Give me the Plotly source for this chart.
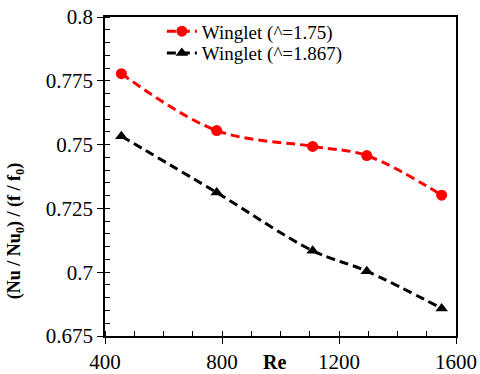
import plotly.graph_objects as go

# podaci očitani sa slike
re_vals = [456, 782, 1110, 1295, 1551]
odnos_175 = [0.7778, 0.7555, 0.7493, 0.7457, 0.7302]
odnos_1867 = [0.7533, 0.7312, 0.7084, 0.7004, 0.6858]

y_tick_vals = [0.675, 0.7, 0.725, 0.75, 0.775, 0.8]
y_tick_text = ["0.675", "0.7", "0.725", "0.75", "0.775", "0.8"]
x_tick_vals = [400, 800, 1200, 1600]

FONT = "'Liberation Serif', 'Times New Roman', Times, serif"

fig = go.Figure()
fig.add_trace(go.Scatter(
    x=re_vals, y=odnos_175, name="Winglet (^=1.75)", legend="legend",
    mode="lines+markers", line=dict(color="#ff0000", width=3, dash="9px,5px", shape="spline"),
    marker=dict(color="#ff0000", size=11, symbol="circle"),
))
fig.add_trace(go.Scatter(
    x=re_vals, y=odnos_1867, name="Winglet (^=1.867)", legend="legend2",
    mode="lines+markers", line=dict(color="black", width=3, dash="9px,5px", shape="spline"),
    marker=dict(color="black", size=11, symbol="triangle-up"),
))

osa = dict(showline=True, linecolor="black", linewidth=1.5, mirror=True,
           showgrid=False, zeroline=False, ticks="outside", ticklen=6,
           tickcolor="black", automargin=False,
           tickfont=dict(family=FONT, size=21, color="black"))

# dvije legende da razmak među stavkama bude kao na originalu
leg = dict(xanchor="left", yanchor="middle", bgcolor="rgba(0,0,0,0)",
           font=dict(family=FONT, size=19))

fig.update_layout(
    width=480, height=374,
    paper_bgcolor="white", plot_bgcolor="white",
    margin=dict(l=105, r=24, t=13, b=38),
    font=dict(family=FONT, color="black"),
    xaxis=dict(osa, range=[400, 1600], tickvals=x_tick_vals,
               minor=dict(ticks="inside", dtick=100, ticklen=5, tickcolor="black")),
    yaxis=dict(osa, range=[0.675, 0.8], tickvals=y_tick_vals, ticktext=y_tick_text,
               minor=dict(ticks="inside", dtick=0.005, ticklen=5, tickcolor="black")),
    showlegend=True,
    legend=dict(leg, x=0.162, y=0.955),
    legend2=dict(leg, x=0.162, y=0.887),
)

fig.add_annotation(text="<b>Re</b>", xref="paper", yref="paper", x=0.484, y=-0.083,
                   showarrow=False, yanchor="middle",
                   font=dict(family=FONT, size=20))
fig.add_annotation(text="<b>(Nu / Nu<sub>0</sub>) / (f / f<sub>0</sub>)</b>",
                   xref="paper", yref="paper", x=-0.255, y=0.33, textangle=-90,
                   showarrow=False, xanchor="center", yanchor="middle",
                   font=dict(family=FONT, size=18))

# body ima podrazumijevanu marginu od 8px — ukloni je
fig.write_html("out.html", config={"displayModeBar": False},
               post_script="document.body.style.margin='0';")
